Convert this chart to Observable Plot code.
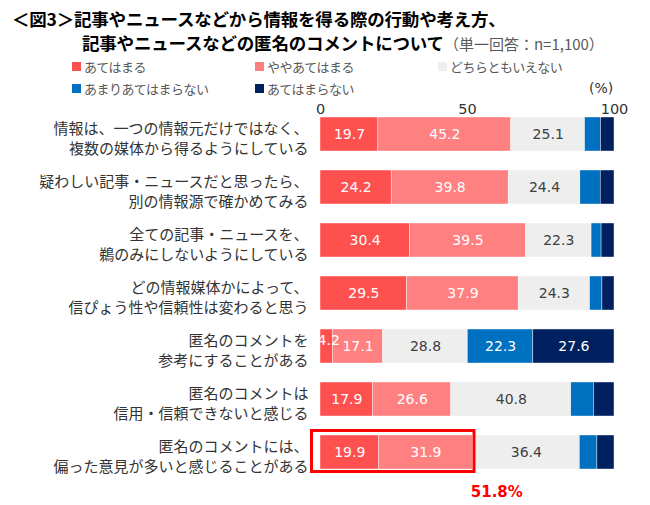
<!DOCTYPE html>
<html>
<head>
<meta charset="utf-8">
<script src="https://cdn.jsdelivr.net/npm/d3@7"></script>
<script src="https://cdn.jsdelivr.net/npm/@observablehq/plot@0.6"></script>
<style>
  html, body { margin: 0; padding: 0; background: #fff; }
  #wrap { position: relative; width: 650px; height: 505px; overflow: hidden; font-family: "Noto Sans CJK JP", sans-serif; }
  #header { position: relative; width: 650px; height: 100px; }
  .t { position: absolute; white-space: nowrap; font-weight: bold; color: #000; font-size: 17.5px; line-height: 1; letter-spacing: -0.2px; }
  .sub { font-weight: normal; font-size: 15px; color: #595959; letter-spacing: 0; }
  .lg { position: absolute; white-space: nowrap; font-size: 13px; color: #595959; line-height: 1; letter-spacing: -0.5px; }
  .sq { position: absolute; width: 9px; height: 9px; }
  .pct { position: absolute; font-family: "DejaVu Sans", sans-serif; font-size: 14px; color: #333; line-height: 1; }
  #chart { position: absolute; left: 0; top: 100px; }
</style>
</head>
<body>
<div id="wrap">
  <div id="header"></div>
  <div id="chart"></div>
</div>
<script>
const titleLine1 = "＜図3＞記事やニュースなどから情報を得る際の行動や考え方、";
const titleLine2 = "記事やニュースなどの匿名のコメントについて";
const titleNote = "（単一回答：n=1,100）";
const unitLabel = "(%)";

const categories = [
  "情報は、一つの情報元だけではなく、\n複数の媒体から得るようにしている",
  "疑わしい記事・ニュースだと思ったら、\n別の情報源で確かめてみる",
  "全ての記事・ニュースを、\n鵜のみにしないようにしている",
  "どの情報媒体かによって、\n信ぴょう性や信頼性は変わると思う",
  "匿名のコメントを\n参考にすることがある",
  "匿名のコメントは\n信用・信頼できないと感じる",
  "匿名のコメントには、\n偏った意見が多いと感じることがある"
];
const seriesNames = ["あてはまる", "ややあてはまる", "どちらともいえない", "あまりあてはまらない", "あてはまらない"];
const seriesColors = ["#FF5050", "#FF8080", "#EEEEEE", "#0070C0", "#002060"];

const s1 = [19.7, 24.2, 30.4, 29.5, 4.2, 17.9, 19.9];
const s2 = [45.2, 39.8, 39.5, 37.9, 17.1, 26.6, 31.9];
const s3 = [25.1, 24.4, 22.3, 24.3, 28.8, 40.8, 36.4];
const s4 = [5.4, 6.9, 3.4, 4.2, 22.3, 7.7, 6.0];
const s5 = [4.6, 4.7, 4.4, 4.1, 27.6, 7.0, 5.8];
const xTicks = [0, 50, 100];
const highlightIndex = 6;

// ---------- header (title + legend) ----------
const header = document.getElementById("header");
function add(html, cls, left, top) {
  const d = document.createElement("div");
  d.className = cls;
  d.style.left = left + "px";
  d.style.top = top + "px";
  d.innerHTML = html;
  header.appendChild(d);
  return d;
}
add(titleLine1, "t", 12, 10);
add(titleLine2 + '<span class="sub">' + titleNote + '</span>', "t", 82, 34);

const legendPos = [[72, 62], [255, 62], [438, 62], [72, 84], [255, 84]];
seriesNames.forEach((name, i) => {
  const [lx, ly] = legendPos[i];
  const sq = add("", "sq", lx, ly);
  sq.style.background = seriesColors[i];
  add(name, "lg", lx + 12, ly - 2);
});
add(unitLabel, "pct", 589, 81);

// ---------- chart ----------
const data = [];
const series = [s1, s2, s3, s4, s5];
categories.forEach((c, i) => {
  series.forEach((s, j) => {
    data.push({cat: c, series: seriesNames[j], si: j, value: s[i]});
  });
});
const hl = [{cat: categories[highlightIndex], total: +(s1[highlightIndex] + s2[highlightIndex]).toFixed(1)}];

const shown = d => d.si < 3 || d.value >= 10;
const narrow = d => d.value < 6;

const plot = Plot.plot({
  width: 650,
  height: 405,
  marginLeft: 320,
  marginRight: 36,
  marginTop: 17,
  marginBottom: 0,
  style: {background: "transparent", overflow: "visible"},
  x: {domain: [0, 100], axis: null},
  y: {domain: categories, range: [7.46, 378.46], paddingInner: 0.36, paddingOuter: 0.18, axis: null},
  color: {domain: seriesNames, range: seriesColors},
  marks: [
    Plot.barX(data, Plot.stackX({x: "value", y: "cat", fill: "series", z: "series", order: seriesNames, stroke: "#fff", strokeWidth: 0.4})),
    Plot.text(data, Plot.stackX({
      x: "value", y: "cat", z: "series", order: seriesNames,
      text: d => (shown(d) && !narrow(d)) ? d.value.toFixed(1) : "",
      fill: d => d.si === 2 ? "#404040" : "#ffffff",
      fontFamily: "DejaVu Sans", fontSize: 14
    })),
    Plot.text(data, Plot.stackX({
      x: "value", y: "cat", z: "series", order: seriesNames,
      text: d => (shown(d) && narrow(d)) ? d.value.toFixed(1) : "",
      fill: "#ffffff", dy: -6, dx: 2,
      fontFamily: "DejaVu Sans", fontSize: 14
    })),
    Plot.barX(hl, {x1: 0, x2: "total", y: "cat", fill: "none", stroke: "#FF0000", strokeWidth: 3,
      insetLeft: -8.5, insetRight: -1.7, insetTop: -4.5, insetBottom: -2.5}),
    Plot.text(hl, {x: "total", y: "cat", text: d => d.total.toFixed(1) + "%", dx: 24, dy: 40,
      fill: "#FF0000", fontWeight: "bold", fontFamily: "DejaVu Sans", fontSize: 15}),
    Plot.text(categories, {x: 0, y: d => d, text: d => d, textAnchor: "end", dx: -12, dy: 3,
      lineHeight: 1.33, fontSize: 15, fill: "#333", fontFamily: "Noto Sans CJK JP"}),
    Plot.axisX(xTicks, {anchor: "top", tickSize: 0, tickPadding: 4, fontSize: 14.5,
      fontFamily: "DejaVu Sans", color: "#333", tickFormat: d => String(d)})
  ]
});
document.getElementById("chart").appendChild(plot);
</script>
</body>
</html>
